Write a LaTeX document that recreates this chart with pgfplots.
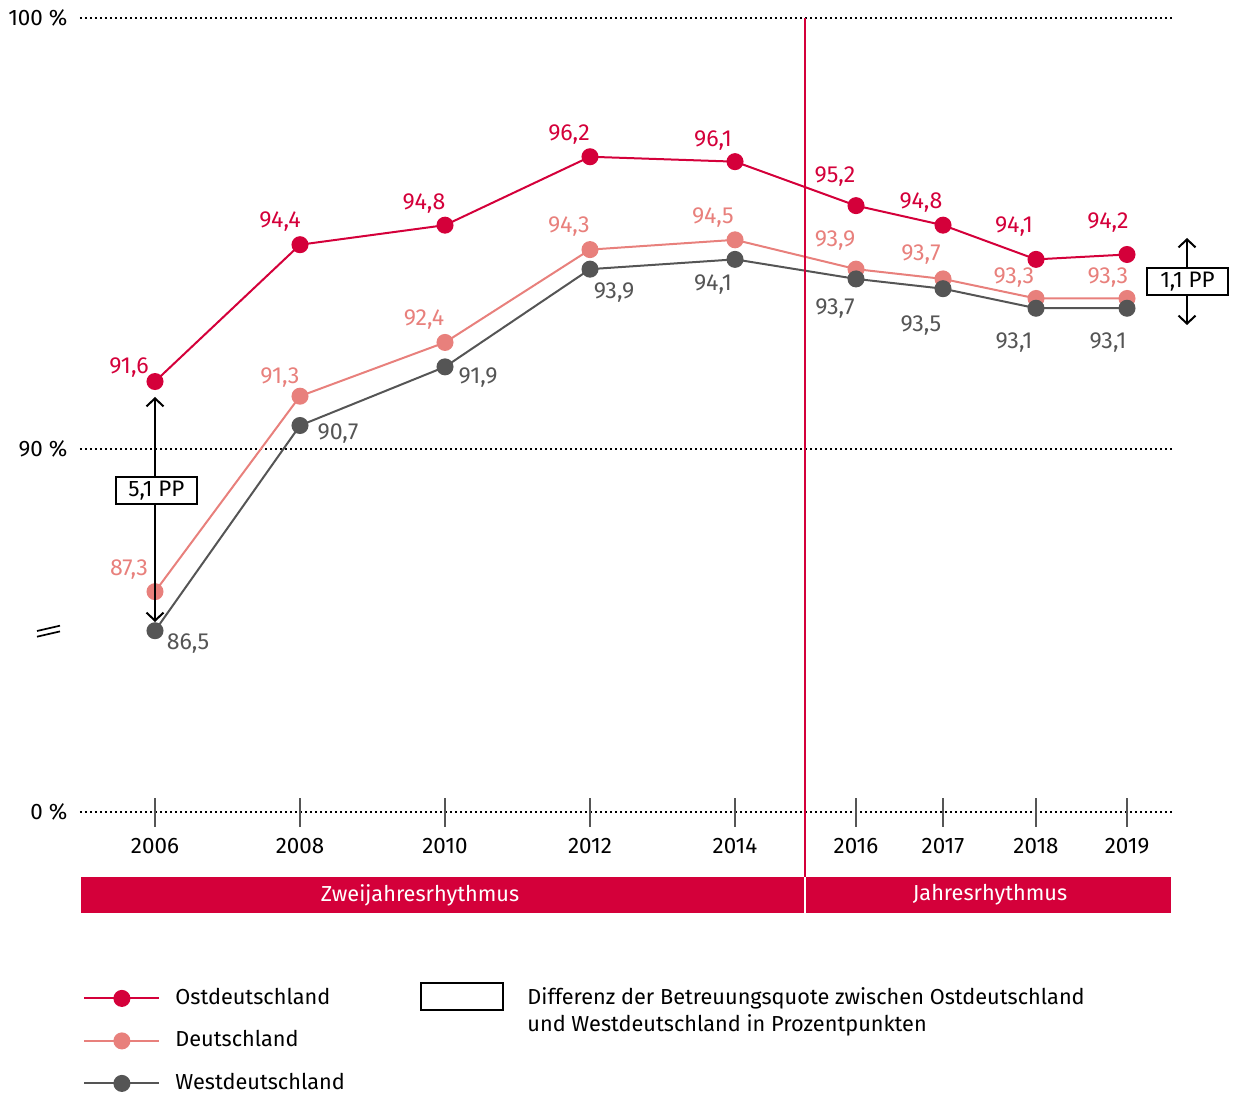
\documentclass[border=0pt]{standalone}
\usepackage{pgfplots}
\pgfplotsset{compat=1.18}
\usepackage{fontspec}
\setmainfont{Fira Sans}
\usetikzlibrary{arrows.meta}
\definecolor{ost}{HTML}{D4003A}
\definecolor{deu}{HTML}{E8807C}
\definecolor{west}{HTML}{555555}
\definecolor{band}{HTML}{D4003A}
\newcommand{\tfont}{\fontsize{11.2}{13}\selectfont}
\newcommand{\lfont}{\fontsize{10.85}{13}\selectfont}
\newcommand{\vfont}{\fontsize{11.6}{13}\selectfont}
\begin{document}
\begin{tikzpicture}
\useasboundingbox (-40pt,-142.5pt) rectangle (577pt,406pt);
\begin{axis}[
  at={(0pt,0pt)}, anchor=south west,
  scale only axis, width=546pt, height=397pt,
  xmin=80, xmax=1172, ymin=82.79, ymax=99.04,
  axis line style={draw=none},
  clip=false,
  xtick={155,300,445,590,735,856,943,1036,1127},
  xticklabels={2006,2008,2010,2012,2014,2016,2017,2018,2019},
  ytick={82.79,90.22,99.04},
  yticklabels={0~\%,90~\%,100~\%},
  ymajorgrids,
  major grid style={black, line width=0.9pt, dash pattern=on 0.9pt off 1.6pt},
  ytick style={draw=none},
  xtick style={west, line width=0.8pt},
  tick align=center, major tick length=14.5pt,
  xtick pos=bottom, ytick pos=left,
  tick label style={font=\tfont},
  xticklabel style={yshift=-2.5pt},
  yticklabel style={xshift=4.5pt},
  /pgf/number format/assume math mode=true,
  legend style={at={(axis description cs:0,0)}, anchor=north west,
    xshift=1.5pt, yshift=-87.5pt, draw=none, fill=none, inner sep=0pt,
    font=\lfont, row sep=10.25pt,
    nodes={inner sep=0pt, text height=8.5pt, text depth=2.5pt},
    cells={anchor=west}},
  legend image code/.code={%
    \draw[mark repeat=2,mark phase=2,#1] plot coordinates {(0pt,0pt) (18.75pt,0pt) (37.5pt,0pt)};
    \path[draw=none, fill=none] (0pt,0pt) -- (45.5pt,0pt);},
]
\addplot[ost, line width=1pt, mark=*, mark size=3.75pt, mark options={solid, fill=ost, draw=ost}]
  coordinates {(155,91.6)(300,94.4)(445,94.8)(590,96.2)(735,96.1)(856,95.2)(943,94.8)(1036,94.1)(1127,94.2)};
\addlegendentry{Ostdeutschland}
\addplot[deu, line width=1pt, mark=*, mark size=3.75pt, mark options={solid, fill=deu, draw=deu}]
  coordinates {(155,87.3)(300,91.3)(445,92.4)(590,94.3)(735,94.5)(856,93.9)(943,93.7)(1036,93.3)(1127,93.3)};
\addlegendentry{Deutschland}
\addplot[west, line width=1pt, mark=*, mark size=3.75pt, mark options={solid, fill=west, draw=west}]
  coordinates {(155,86.5)(300,90.7)(445,91.9)(590,93.9)(735,94.1)(856,93.7)(943,93.5)(1036,93.1)(1127,93.1)};
\addlegendentry{Westdeutschland}
\end{axis}
\begin{scope}[shift={(-40pt,406pt)}, x=0.5pt, y=-0.5pt]
  % period separator
  \draw[ost, line width=0.6pt] (805,18) -- (805,877);
  \fill[band] (81,877) rectangle (1171,913);
  \draw[white, line width=0.6pt] (805,877) -- (805,913);
  \node[white, font=\lfont] at (420,895) {Zweijahresrhythmus};
  \node[white, font=\lfont] at (990,895) {Jahresrhythmus};
  % axis break
  \draw[black, line width=0.85pt] (37,631) -- (60,625.7);
  \draw[black, line width=0.85pt] (37,636.7) -- (60,631.4);
  % difference arrows
  \draw[line width=1pt, {Straight Barb[length=4pt,width=8.5pt]}-{Straight Barb[length=4pt,width=8.5pt]}] (155,397) -- (155,622);
  \node[draw, line width=1pt, fill=white, font=\tfont, minimum width=40.5pt, minimum height=13.5pt, inner sep=0pt] at (156.5,491) {5,1 PP};
  \draw[line width=1pt, {Straight Barb[length=4pt,width=8.5pt]}-{Straight Barb[length=4pt,width=8.5pt]}] (1187,238) -- (1187,325);
  \node[draw, line width=1pt, fill=white, font=\tfont, minimum width=40.5pt, minimum height=13.5pt, inner sep=0pt] at (1187.5,282) {1,1 PP};
  % value labels Ost
  \begin{scope}[every node/.style={font=\vfont, text=ost}]
  \node at (129,368) {91,6};
  \node at (280,222) {94,4};
  \node at (424,204) {94,8};
  \node at (569,135) {96,2};
  \node at (713,141) {96,1};
  \node at (835,177) {95,2};
  \node at (921,203) {94,8};
  \node at (1014,227) {94,1};
  \node at (1108,223) {94,2};
  \end{scope}
  \begin{scope}[every node/.style={font=\vfont, text=deu}]
  \node at (129,570) {87,3};
  \node at (280,378) {91,3};
  \node at (424,320) {92,4};
  \node at (569,227) {94,3};
  \node at (713,218) {94,5};
  \node at (835,241) {93,9};
  \node at (921,255) {93,7};
  \node at (1014,278) {93,3};
  \node at (1108,278) {93,3};
  \end{scope}
  \begin{scope}[every node/.style={font=\vfont, text=west}]
  \node at (188,644) {86,5};
  \node at (338,434) {90,7};
  \node at (478,378) {91,9};
  \node at (614,293) {93,9};
  \node at (713,285) {94,1};
  \node at (835,309) {93,7};
  \node at (921,326) {93,5};
  \node at (1014,343) {93,1};
  \node at (1108,343) {93,1};
  \end{scope}
  % legend: difference box
  \draw[line width=1pt] (421,983) rectangle (503,1010);
  \node[anchor=west, font=\lfont, align=left, inner sep=0pt] at (527,1011.5) {Differenz der Betreuungsquote zwischen Ostdeutschland\\[0.6pt]und Westdeutschland in Prozentpunkten};
\end{scope}
\end{tikzpicture}
\end{document}
